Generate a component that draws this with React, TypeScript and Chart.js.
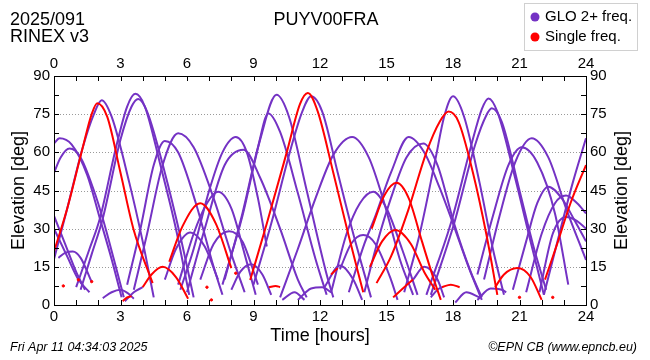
import React, { useEffect, useRef } from "react";
import { Chart, registerables } from "chart.js";

Chart.register(...registerables);

// ---------- texts ----------
const titleLeft1 = "2025/091";
const titleLeft2 = "RINEX v3";
const titleCenter = "PUYV00FRA";
const legendLabels = ["GLO 2+ freq.", "Single freq."];
const footerLeft = "Fri Apr 11 04:34:03 2025";
const footerRight = "\u00A9EPN CB (www.epncb.eu)";
const xTitle = "Time [hours]";
const yTitle = "Elevation [deg]";

// ---------- axes ----------
const xTickLabels = [0, 3, 6, 9, 12, 15, 18, 21, 24];
const yTickLabels = [0, 15, 30, 45, 60, 75, 90];
const yGridValues = [15, 30, 45, 60, 75];

// ---------- GLO 2+ freq. arcs  [hour, elevation] ----------
const g01 = [[0, 63.5], [0.25, 65.5], [0.8, 63], [1.5, 51], [2.07, 34], [2.6, 18], [3.05, 3]];
const g02 = [[0, 52], [0.3, 58], [0.7, 61.5], [1.2, 58], [1.8, 45], [2.2, 34], [2.7, 18], [3.15, 3]];
const g03 = [[0, 18], [0.6, 38], [1.3, 62], [1.8, 75], [2.15, 80.5], [2.6, 74], [3.4, 48], [4.0, 25], [4.5, 3]];
const g04 = [[1.0, 7], [1.6, 22], [2.07, 34], [2.8, 62], [3.3, 78], [3.67, 83], [4.1, 78], [4.8, 55], [5.5, 30], [6.1, 4]];
const g05 = [[1.2, 6], [1.7, 20], [2.2, 34], [3.0, 65], [3.5, 78], [3.8, 81], [4.2, 76], [5.0, 52], [5.7, 27], [6.3, 3]];
const g06 = [[0.2, 18.5], [0.5, 20.5], [0.85, 21], [1.2, 18.5], [1.7, 9]];
const g07 = [[0, 35], [0.5, 24], [1.0, 13], [1.4, 6]];
const g08 = [[0, 30], [0.6, 19], [1.1, 10], [1.6, 5]];
const g09 = [[2.2, 2.7], [2.6, 5], [3.0, 6], [3.35, 4.5], [3.6, 2.5]];
const g10 = [[3.2, 1.5], [3.6, 5], [4.0, 7]];
const g11 = [[3.3, 8], [3.9, 30], [4.5, 55], [5.0, 64.5], [5.6, 60], [6.4, 40], [7.2, 15], [7.6, 4]];
const g12 = [[3.6, 6], [4.2, 28], [4.9, 55], [5.6, 67.5], [6.3, 62], [7.2, 42], [8.0, 20], [8.6, 5]];
const g13 = [[5.0, 10], [5.5, 22], [6.15, 28.5], [6.8, 23], [7.4, 10]];
const g14 = [[5.6, 8], [6.3, 28], [6.9, 40], [7.4, 44.5], [8.0, 38], [8.6, 20], [9.1, 4]];
const g15 = [[6.6, 10], [7.2, 24], [7.9, 29], [8.5, 25], [9.2, 8]];
const g16 = [[5.7, 6], [6.3, 22], [7.0, 45], [7.6, 60], [8.2, 66], [8.7, 60], [9.2, 42], [9.6, 23]];
const g17 = [[6.0, 5], [6.8, 30], [7.7, 55], [8.55, 61], [9.3, 50], [10.2, 30], [11.0, 10], [11.4, 3]];
const g18 = [[7.6, 8], [8.5, 35], [9.3, 65], [10.04, 82.6], [10.6, 74], [11.4, 45], [12.3, 12], [12.6, 3]];
const g19 = [[7.7, 10], [8.5, 36], [9.2, 62], [9.67, 75.3], [10.2, 68], [11.0, 44], [11.8, 18], [12.3, 4]];
const g20 = [[8.0, 6], [8.4, 13], [8.9, 16], [9.4, 12], [9.8, 4]];
const g21 = [[10.3, 2], [10.85, 5], [11.3, 2]];
const g22 = [[11.0, 2], [11.6, 6.5], [12.1, 7], [12.5, 5]];
const g23 = [[9.0, 8], [9.8, 32], [10.7, 62], [11.2, 76], [11.6, 82], [12.1, 76], [12.8, 52], [13.5, 28], [14.3, 3]];
const g24 = [[10.2, 3], [11.0, 22], [11.8, 42], [12.6, 59], [13.45, 66], [14.2, 58], [14.9, 40], [15.6, 18], [16.2, 4]];
const g25 = [[12.5, 5], [13.2, 28], [13.8, 40], [14.4, 44.5], [15.0, 38], [15.7, 22], [16.4, 4]];
const g26 = [[12.9, 14], [13.4, 24], [13.95, 27.5], [14.5, 24], [15.2, 10], [15.5, 2]];
const g27 = [[12.2, 7], [12.9, 15.5], [13.5, 10], [13.9, 2]];
const g28 = [[13.3, 5], [14.0, 24], [14.5, 35], [15.2, 52], [16.0, 66], [16.7, 60], [17.4, 46], [18.0, 32], [18.7, 15], [19.3, 2]];
const g29 = [[14.0, 5], [14.6, 25], [15.2, 42], [15.9, 58], [16.66, 63.5], [17.3, 55], [18.05, 32], [18.8, 13], [19.3, 3]];
const g30 = [[16.2, 10], [16.7, 15], [17.3, 10], [17.6, 3]];
const g31 = [[17.0, 3], [17.3, 6], [17.5, 7]];
const g32 = [[18.1, 1], [18.6, 5], [19.2, 3]];
const g33 = [[19.1, 2], [19.7, 6.5], [20.2, 6], [20.4, 5]];
const g34 = [[15.8, 5], [16.5, 28], [17.2, 57], [17.6, 74], [18.0, 82], [18.5, 74], [19.2, 48], [19.8, 22], [20.3, 4]];
const g35 = [[16.8, 4], [17.9, 32], [18.8, 62], [19.3, 77], [19.6, 81.2], [20.0, 76], [20.8, 50], [21.5, 25], [22.1, 4]];
const g36 = [[17.0, 4], [18.05, 32], [19.0, 63], [19.5, 74.5], [19.75, 77.3], [20.2, 72], [21.0, 45], [21.6, 24], [22.2, 6]];
const g37 = [[19.1, 12], [19.8, 35], [20.5, 55], [21.1, 62], [21.8, 56], [22.6, 36], [23.2, 8]];
const g38 = [[19.4, 10], [20.1, 35], [20.8, 56], [21.55, 65.5], [22.3, 58], [23.1, 38], [24, 17.7]];
const g39 = [[20.7, 6], [21.3, 25], [21.8, 40], [22.3, 46.5], [22.9, 42], [23.5, 33], [24, 25]];
const g40 = [[21.3, 5], [22.0, 28], [22.6, 40], [23.1, 43], [23.6, 40], [24, 36]];
const g41 = [[21.9, 5], [22.5, 28], [23.1, 34.6], [23.6, 33], [24, 30]];
const g42 = [[22.1, 4], [22.8, 28], [23.4, 48], [24, 65.5]];

const gloArcs = [g01, g02, g03, g04, g05, g06, g07, g08, g09, g10, g11, g12, g13, g14, g15, g16, g17, g18, g19, g20, g21,
  g22, g23, g24, g25, g26, g27, g28, g29, g30, g31, g32, g33, g34, g35, g36, g37, g38, g39, g40, g41, g42];

// ---------- Single freq. arcs ----------
const r01 = [[0, 21], [0.6, 38], [1.3, 62], [1.7, 75], [1.95, 79.3], [2.4, 74], [3.0, 52], [3.58, 30], [4.45, 8.6]];
const r02 = [[4.0, 7], [4.4, 12], [4.9, 15], [5.5, 11], [6.05, 2.5]];
const r03 = [[5.2, 17], [5.8, 31], [6.6, 40], [7.3, 32], [8.0, 14.5]];
const r04 = [[8.85, 9.8], [9.6, 32], [10.5, 60], [11.1, 79], [11.45, 83.3], [11.9, 76], [12.6, 52], [13.3, 27], [13.95, 5]];
const r05 = [[14.25, 15], [14.8, 25], [15.4, 29.5], [16.1, 24], [16.7, 13], [17.2, 6]];
const r06 = [[14.33, 30], [14.9, 43], [15.46, 48], [16.0, 42], [16.6, 25], [17.1, 11], [17.45, 2]];
const r07 = [[14.55, 8.6], [15.2, 19], [15.97, 37], [16.8, 60], [17.4, 72], [17.8, 76], [18.25, 72], [18.9, 52], [19.5, 28], [20.0, 4]];
const r08 = [[19.9, 7], [20.3, 12], [20.9, 14.5], [21.5, 11], [22.0, 2]];
const r09 = [[22.15, 10], [22.7, 24], [23.3, 40], [24, 55]];
const r10 = [[3.1, 1.5], [3.3, 3], [3.5, 3.5]];
const r11 = [[9.7, 7], [10.0, 7.5], [10.2, 7]];
const r12 = [[15.3, 3], [15.8, 7], [16.2, 10]];
const r13 = [[17.5, 7], [17.9, 8], [18.3, 7]];
const r14 = [[12.5, 12], [12.8, 14.5]];

const singleArcs = [r01, r02, r03, r04, r05, r06, r07, r08, r09, r10, r11, r12, r13, r14];

const singleDots = [[0.42, 7.5], [1.1, 9.9], [1.7, 9.2], [6.9, 7], [7.1, 2], [8.2, 12.5], [21.0, 3], [22.5, 3]];

// ---------- styles ----------
const PURPLE = "#7432c4";
const RED = "#ff0000";
const FONT = '"Liberation Sans", Arial, Helvetica, sans-serif';

const toXY = (arc: number[][]) => arc.map(([x, y]) => ({ x, y }));

const decorPlugin = {
  id: "decor",
  beforeDatasetsDraw(chart: any) {
    const { ctx, chartArea: a, scales } = chart;
    ctx.save();
    ctx.strokeStyle = "#9a9a9a";
    ctx.lineWidth = 1;
    ctx.setLineDash([1, 2]);
    for (const v of yGridValues) {
      const py = Math.round(scales.y.getPixelForValue(v)) + 0.5;
      ctx.beginPath();
      ctx.moveTo(a.left, py);
      ctx.lineTo(a.right, py);
      ctx.stroke();
    }
    ctx.restore();
  },
  afterDatasetsDraw(chart: any) {
    const { ctx, chartArea: a, scales } = chart;
    ctx.save();
    ctx.strokeStyle = "#000";
    ctx.lineWidth = 1;
    const L = 5;
    ctx.beginPath();
    for (let h = 1; h < 24; h++) {
      const px = Math.round(scales.x.getPixelForValue(h)) + 0.5;
      ctx.moveTo(px, a.bottom);
      ctx.lineTo(px, a.bottom - L);
      ctx.moveTo(px, a.top);
      ctx.lineTo(px, a.top + L);
    }
    for (let k = 1; k < 12; k++) {
      const py = Math.round(scales.y.getPixelForValue(k * 7.5)) + 0.5;
      ctx.moveTo(a.left, py);
      ctx.lineTo(a.left + L, py);
      ctx.moveTo(a.right, py);
      ctx.lineTo(a.right - L, py);
    }
    ctx.stroke();
    ctx.strokeRect(Math.round(a.left) + 0.5, Math.round(a.top) + 0.5, Math.round(a.right - a.left), Math.round(a.bottom - a.top));
    ctx.restore();
  },
  afterDraw(chart: any) {
    const { ctx, chartArea: a } = chart;
    ctx.save();
    ctx.fillStyle = "#000";
    ctx.textBaseline = "middle";
    // header
    ctx.font = `18px ${FONT}`;
    ctx.textAlign = "left";
    ctx.fillText(titleLeft1, 10, 20);
    ctx.fillText(titleLeft2, 10, 37);
    ctx.textAlign = "center";
    ctx.fillText(titleCenter, 326, 20);
    // legend
    ctx.fillStyle = "#fff";
    ctx.fillRect(524, 3, 113, 47);
    ctx.strokeStyle = "#d0d0d0";
    ctx.lineWidth = 1;
    ctx.strokeRect(524.5, 3.5, 113, 47);
    const colors = [PURPLE, RED];
    ctx.font = `15px ${FONT}`;
    ctx.textAlign = "left";
    legendLabels.forEach((lab, i) => {
      const cy = 17 + i * 20;
      ctx.fillStyle = colors[i];
      ctx.beginPath();
      ctx.arc(535, cy, 4.5, 0, Math.PI * 2);
      ctx.fill();
      ctx.fillStyle = "#000";
      ctx.fillText(lab, 545, cy);
    });
    // axis titles
    ctx.font = `18px ${FONT}`;
    ctx.textAlign = "center";
    ctx.fillText(xTitle, (a.left + a.right) / 2, 336);
    const cy = (a.top + a.bottom) / 2;
    ctx.save();
    ctx.translate(19, cy);
    ctx.rotate(-Math.PI / 2);
    ctx.fillText(yTitle, 0, 0);
    ctx.restore();
    ctx.save();
    ctx.translate(622, cy);
    ctx.rotate(-Math.PI / 2);
    ctx.fillText(yTitle, 0, 0);
    ctx.restore();
    // footer
    ctx.font = `italic 12.5px ${FONT}`;
    ctx.textAlign = "left";
    ctx.fillText(footerLeft, 10, 348);
    ctx.textAlign = "right";
    ctx.fillText(footerRight, 637, 348);
    ctx.restore();
  },
};

export default function App() {
  const ref = useRef<HTMLCanvasElement | null>(null);
  useEffect(() => {
    document.body.style.margin = "0";
    if (!ref.current) return;
    const lineDs = (arc: number[][], color: string) => ({
      data: toXY(arc),
      borderColor: color,
      backgroundColor: color,
      borderWidth: 2,
      pointRadius: 0,
      fill: false,
      cubicInterpolationMode: "monotone" as const,
      showLine: true,
    });
    const datasets: any[] = [
      {
        data: toXY(singleDots),
        borderColor: RED,
        backgroundColor: RED,
        pointRadius: 1.2,
        showLine: false,
      },
      ...singleArcs.map((a) => lineDs(a, RED)),
      ...gloArcs.map((a) => lineDs(a, PURPLE)),
    ];
    const tickFont = { family: FONT, size: 15 };
    const xScale = (position: string, h: number) => ({
      type: "linear",
      position,
      min: 0,
      max: 24,
      afterBuildTicks: (s: any) => {
        s.ticks = xTickLabels.map((v) => ({ value: v }));
      },
      ticks: { font: tickFont, color: "#000", padding: 3, maxRotation: 0, autoSkip: false },
      grid: { display: false, drawTicks: false },
      border: { display: false },
      afterFit: (s: any) => {
        s.height = h;
      },
    });
    const yScale = (position: string, w: number) => ({
      type: "linear",
      position,
      min: 0,
      max: 90,
      afterBuildTicks: (s: any) => {
        s.ticks = yTickLabels.map((v) => ({ value: v }));
      },
      ticks: { font: tickFont, color: "#000", padding: 4 },
      grid: { display: false, drawTicks: false },
      border: { display: false },
      afterFit: (s: any) => {
        s.width = w;
      },
    });
    const chart = new Chart(ref.current, {
      type: "line",
      data: { datasets },
      options: {
        animation: false,
        responsive: false,
        devicePixelRatio: 1,
        layout: { padding: 0 },
        plugins: { legend: { display: false }, title: { display: false }, tooltip: { enabled: false } },
        events: [],
        scales: {
          x: xScale("bottom", 55),
          x2: xScale("top", 76),
          y: yScale("left", 54),
          y2: yScale("right", 64),
        } as any,
      },
      plugins: [decorPlugin],
    });
    return () => chart.destroy();
  }, []);
  return <canvas ref={ref} width={650} height={360} style={{ display: "block" }} />;
}
